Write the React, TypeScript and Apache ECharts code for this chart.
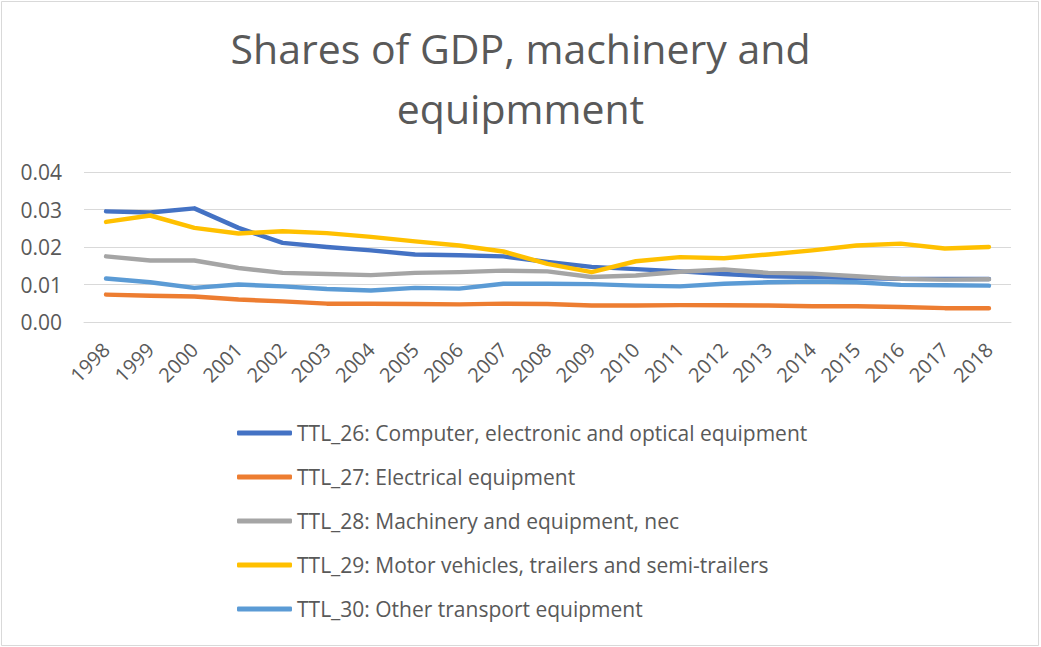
import React, { useEffect, useRef } from "react";
import * as echarts from "echarts";

const years = ["1998","1999","2000","2001","2002","2003","2004","2005","2006","2007","2008","2009","2010","2011","2012","2013","2014","2015","2016","2017","2018"];
const ttl26 = [0.0295,0.0292,0.0303,0.0251,0.0211,0.0200,0.0191,0.0180,0.0178,0.0175,0.0160,0.0147,0.0141,0.0135,0.0128,0.0122,0.0120,0.0117,0.0115,0.0115,0.0115];
const ttl27 = [0.0073,0.0070,0.0068,0.0060,0.0055,0.0049,0.0049,0.0048,0.0047,0.0049,0.0048,0.0044,0.0044,0.0045,0.0045,0.0044,0.0042,0.0042,0.0040,0.0037,0.0037];
const ttl28 = [0.0175,0.0164,0.0164,0.0144,0.0131,0.0128,0.0125,0.0131,0.0133,0.0137,0.0135,0.0120,0.0124,0.0134,0.0140,0.0131,0.0129,0.0122,0.0115,0.0113,0.0114];
const ttl29 = [0.0267,0.0284,0.0251,0.0236,0.0242,0.0237,0.0227,0.0215,0.0204,0.0188,0.0155,0.0133,0.0162,0.0173,0.0170,0.0180,0.0191,0.0204,0.0209,0.0196,0.0200];
const ttl30 = [0.0116,0.0106,0.0091,0.0100,0.0095,0.0088,0.0084,0.0091,0.0089,0.0102,0.0102,0.0101,0.0097,0.0095,0.0102,0.0106,0.0108,0.0106,0.0099,0.0098,0.0097];
const seriesNames = [
  "TTL_26: Computer, electronic and optical equipment",
  "TTL_27: Electrical equipment",
  "TTL_28: Machinery and equipment, nec",
  "TTL_29: Motor vehicles, trailers and semi-trailers",
  "TTL_30: Other transport equipment",
];
const colors = ["#4472C4", "#ED7D31", "#A5A5A5", "#FFC000", "#5B9BD5"];
const yTicks = [0, 0.01, 0.02, 0.03, 0.04];

export default function App() {
  const ref = useRef<HTMLDivElement>(null);
  useEffect(() => {
    document.body.style.margin = "0";
    const chart = echarts.init(ref.current!, null, { renderer: "svg" });
    const font = "'Open Sans', 'Noto Sans', sans-serif";
    const data = [ttl26, ttl27, ttl28, ttl29, ttl30];
    chart.setOption({
      animation: false,
      backgroundColor: "#ffffff",
      textStyle: { fontFamily: font },
      title: {
        text: "Shares of GDP, machinery and\nequipmment",
        left: "center",
        top: 13,
        textStyle: { fontFamily: font, fontSize: 41, fontWeight: "normal", color: "#595959", lineHeight: 60 },
      },
      graphic: [
        {
          type: "rect",
          shape: { x: 1.5, y: 1.5, width: 1037, height: 644 },
          style: { fill: "none", stroke: "#d9d9d9", lineWidth: 1 },
          silent: true,
        },
      ],
      legend: {
        orient: "vertical",
        left: 232,
        top: 416,
        itemWidth: 55,
        itemHeight: 5,
        itemGap: 20,
        icon: "roundRect",
        textStyle: { fontFamily: font, fontSize: 21, color: "#595959", lineHeight: 24 },
        data: seriesNames,
      },
      grid: { left: 84, right: 30, top: 172, bottom: 325 },
      xAxis: {
        type: "category",
        data: years,
        boundaryGap: true,
        axisLine: { show: true, lineStyle: { color: "#d9d9d9" } },
        axisTick: { show: false },
        axisLabel: { rotate: 45, fontSize: 20, color: "#595959", margin: 24, interval: 0 },
      },
      yAxis: {
        type: "value",
        min: yTicks[0],
        max: yTicks[yTicks.length - 1],
        interval: 0.01,
        axisLine: { show: false },
        axisTick: { show: false },
        splitLine: { lineStyle: { color: "#d9d9d9", width: 1 } },
        axisLabel: { fontSize: 21, color: "#595959", margin: 22, formatter: (v: number) => v.toFixed(2) },
      },
      series: seriesNames.map((n, i) => ({
        name: n,
        type: "line",
        data: data[i],
        symbol: "none",
        color: colors[i],
        lineStyle: { width: 4.5, color: colors[i], cap: "round", join: "round" },
      })),
    });
    return () => chart.dispose();
  }, []);
  return <div ref={ref} style={{ width: 1041, height: 647 }} />;
}
